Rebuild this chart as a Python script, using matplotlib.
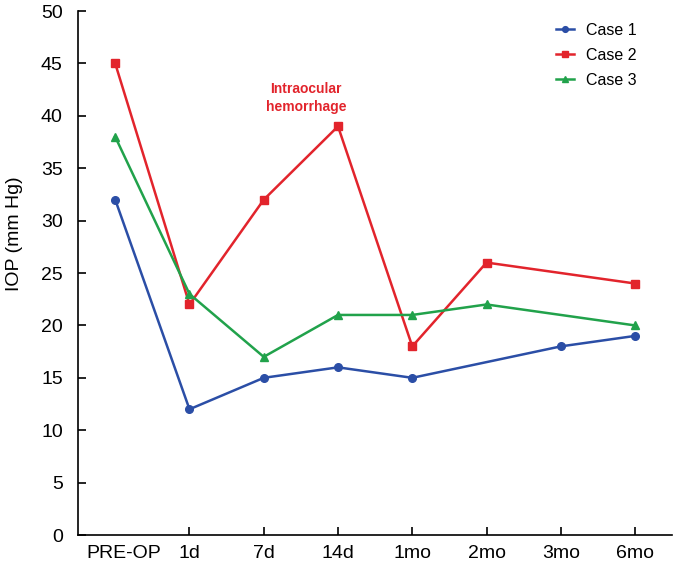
import numpy as np
from matplotlib import pyplot as plt
from matplotlib import transforms

plt.rcParams['font.family'] = ['Liberation Sans', 'DejaVu Sans']

labels = ['PRE-OP', '1d', '7d', '14d', '1mo', '2mo', '3mo', '6mo']
case1 = [32, 12, 15, 16, 15, None, 18, 19]
case2 = [45, 22, 32, 39, 18, 26, None, 24]
case3 = [38, 23, 17, 21, 21, 22, None, 20]

series = [
    ('Case 1', case1, '#2b4ea6', 'o'),
    ('Case 2', case2, '#e2242c', 's'),
    ('Case 3', case3, '#21a24b', '^'),
]

fig = plt.figure(figsize=(6.79, 5.64), dpi=100)
ax = fig.add_axes([0.115, 0.0514, 0.875, 0.929])

for name, vals, color, mk in series:
    xs = [i for i, v in enumerate(vals) if v is not None]
    ys = [v for v in vals if v is not None]
    ax.plot(xs, ys, color=color, marker=mk, markersize=5.5, linewidth=1.8, label=name)

ax.text(2.57, 41.7, 'Intraocular\nhemorrhage', color='#e2242c', fontsize=10,
        fontweight='bold', ha='center', va='center', linespacing=1.35)

ax.set_xlim(-0.5, 7.5)
ax.set_ylim(0, 50)
ax.set_yticks(np.arange(0, 51, 5))
ax.set_xticks(range(len(labels)))
ax.set_xticklabels(labels)
ax.xaxis.get_major_ticks()[0].tick1line.set_visible(False)
ax.tick_params(direction='in', labelsize=14, length=6, width=1.2)
ax.tick_params(axis='y', pad=11)
ax.tick_params(axis='x', pad=7)

# PRE-OP label sits a bit right of its position in the original
lab0 = ax.get_xticklabels()[0]
lab0.set_transform(lab0.get_transform() + transforms.ScaledTranslation(0.09, 0, fig.dpi_scale_trans))

ax.set_ylabel('IOP (mm Hg)', fontsize=14)
ax.yaxis.set_label_coords(-0.092, 0.575)
for s in ['top', 'right']:
    ax.spines[s].set_visible(False)
for s in ['left', 'bottom']:
    ax.spines[s].set_linewidth(1.2)

ax.legend(loc='upper right', frameon=False, fontsize=11.5, handlelength=1.1,
          markerscale=0.75, bbox_to_anchor=(0.965, 1.005), labelspacing=0.62,
          handletextpad=0.8)

fig.savefig('out.png', dpi=100)
